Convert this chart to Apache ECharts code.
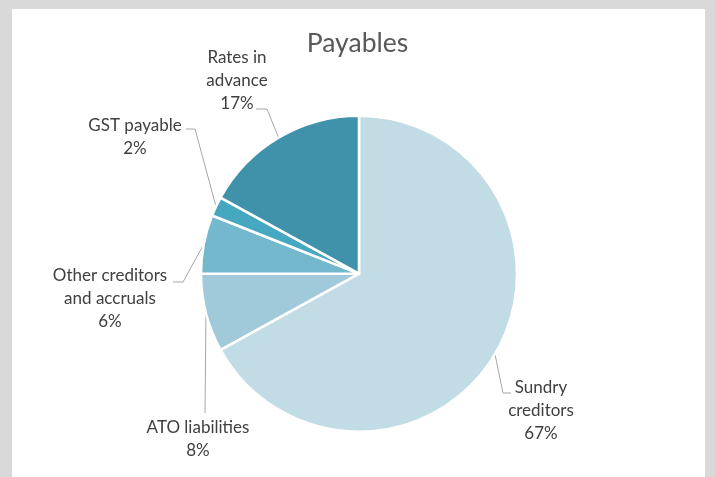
<!DOCTYPE html>
<html>
<head>
<meta charset="utf-8">
<script src="https://cdn.jsdelivr.net/npm/echarts@6/dist/echarts.min.js"></script>
<style>
  html, body { margin: 0; padding: 0; background: #d9d9d9; }
  #chart { width: 715px; height: 477px; }
</style>
</head>
<body>
<div id="chart"></div>
<script>
// Payables breakdown (percent of total)
const categories = ['Sundry creditors', 'ATO liabilities', 'Other creditors and accruals', 'GST payable', 'Rates in advance'];
const values = [67, 8, 6, 2, 17];
// Label text as wrapped on the chart
const labelNames = ['Sundry\ncreditors', 'ATO liabilities', 'Other creditors\nand accruals', 'GST payable', 'Rates in\nadvance'];
const colors = ['#c1dce5', '#a0cad9', '#73b8cd', '#46a7c1', '#4092ab'];

// Label box centres and leader-line elbows for each slice
const labelSpots = [
  { x: 541, y: 411, elbow: [503, 393], end: [511, 393] },
  { x: 198, y: 439, elbow: null, end: [205, 413] },
  { x: 110, y: 299, elbow: [183, 282], end: [173, 282] },
  { x: 135, y: 137, elbow: [195, 129], end: [186, 129] },
  { x: 237, y: 81, elbow: [267, 109], end: [256, 109] }
];

const chart = echarts.init(document.getElementById('chart'), null, { renderer: 'canvas' });

const data = categories.map((c, i) => ({
  name: c,
  value: values[i],
  itemStyle: { color: colors[i] },
  label: { formatter: labelNames[i] + '\n' + values[i] + '%' }
}));

chart.setOption({
  backgroundColor: '#d9d9d9',
  animation: false,
  graphic: [{
    type: 'rect',
    shape: { x: 12, y: 9, width: 693, height: 470 },
    style: { fill: '#ffffff' },
    z: -10
  }],
  title: {
    text: 'Payables',
    left: 'center',
    top: 25,
    textStyle: { fontFamily: 'Lato', fontSize: 26.5, fontWeight: 'normal', color: '#595959' }
  },
  series: [{
    type: 'pie',
    center: [359, 273.7],
    radius: [0, 158],
    startAngle: 90,
    clockwise: true,
    data: data,
    itemStyle: { borderColor: '#ffffff', borderWidth: 2.5 },
    label: {
      show: true,
      position: 'outside',
      fontFamily: 'Lato',
      fontSize: 17,
      lineHeight: 23,
      color: '#404040',
      align: 'center'
    },
    labelLine: {
      show: true,
      smooth: false,
      lineStyle: { color: '#a6a6a6', width: 1 }
    },
    labelLayout: function (params) {
      const spot = labelSpots[params.dataIndex];
      const edge = params.labelLinePoints ? params.labelLinePoints[0] : null;
      const pts = [];
      if (edge) pts.push([edge[0], edge[1]]);
      if (spot.elbow) pts.push(spot.elbow);
      pts.push(spot.end);
      return {
        x: spot.x,
        y: spot.y,
        align: 'center',
        verticalAlign: 'middle',
        labelLinePoints: pts.length === 2 ? [pts[0], pts[1], pts[1]] : pts
      };
    }
  }]
});
</script>
</body>
</html>
